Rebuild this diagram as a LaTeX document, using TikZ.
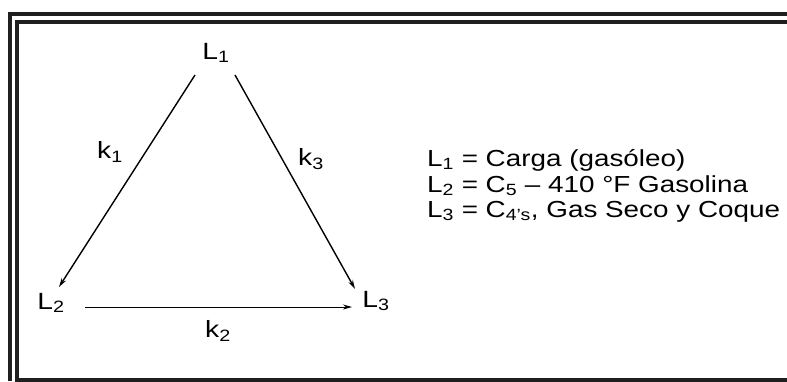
\documentclass[tikz,border=0pt]{standalone}
\usepackage{fontspec}
\setmainfont[FakeStretch=1.2]{Liberation Sans}
\usetikzlibrary{arrows.meta}
\begin{document}
\begin{tikzpicture}[x=1pt,y=-1pt,
  frame/.style={line width=4pt,color=black!88},
  lbl/.style={inner sep=0pt,font=\fontsize{23.5}{25}\selectfont},
  arr/.style={line width=1.4pt,-{Stealth[length=9pt,width=5pt]}},
  leg/.style={inner sep=0pt,anchor=base west,font=\fontsize{23.2}{25}\selectfont}]
\useasboundingbox (0,0) rectangle (787,381);
% frame
\draw[frame] (10,381) -- (10,14) -- (787,14);
\draw[frame] (787,22) -- (17,22) -- (17,379.5) -- (787,379.5);
% nodes
\node[lbl] (L1) at (216,53) {L\textsubscript{1}};
\node[lbl] (L2) at (51,303) {L\textsubscript{2}};
\node[lbl] (L3) at (376,301) {L\textsubscript{3}};
\node[lbl] (k1) at (110,152) {k\textsubscript{1}};
\node[lbl] (k3) at (311,159) {k\textsubscript{3}};
\node[lbl] (k2) at (218,331) {k\textsubscript{2}};
\coordinate (a1s) at (195,75);
\coordinate (a1e) at (59,287);
\coordinate (a3s) at (235,75);
\coordinate (a3e) at (355,289);
\coordinate (a2s) at (85,307);
\coordinate (a2e) at (352,307);
\draw[arr] (a1s) -- (a1e);
\draw[arr] (a3s) -- (a3e);
\draw[arr,line width=0.9pt] (a2s) -- (a2e);
% legend
\node[leg] (t1) at (427,166) {L\textsubscript{1} = Carga (gasóleo)};
\node[leg] (t2) at (427,192) {L\textsubscript{2} = C\textsubscript{5} – 410 °F Gasolina};
\node[leg] (t3) at (427,217) {L\textsubscript{3} = C\textsubscript{4’s}, Gas Seco y Coque};
\end{tikzpicture}
\end{document}
